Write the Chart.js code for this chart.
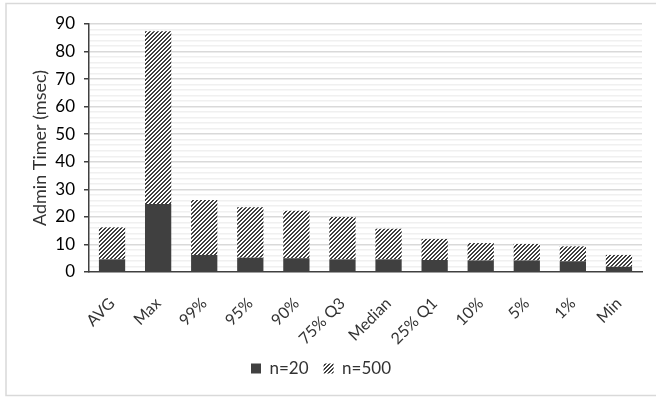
<!DOCTYPE html>
<html>
<head>
<meta charset="utf-8">
<script src="https://cdn.jsdelivr.net/npm/chart.js@4/dist/chart.umd.min.js"></script>
<style>
  html, body { margin: 0; padding: 0; background: #ffffff; }
  #wrap { position: relative; width: 656px; height: 398px; }
</style>
</head>
<body>
<div id="wrap"><canvas id="chart" width="656" height="398"></canvas></div>
<script>
// Admin timer percentiles (msec), stacked per sample size
const categories = ['AVG', 'Max', '99%', '95%', '90%', '75% Q3', 'Median', '25% Q1', '10%', '5%', '1%', 'Min'];
const n20 = [4.6, 24.7, 6.2, 5.2, 5.0, 4.6, 4.6, 4.35, 4.2, 4.2, 3.9, 1.9];
const n500 = [11.6, 62.7, 19.9, 18.3, 17.2, 15.4, 11.1, 7.65, 6.3, 6.0, 5.4, 4.3];
const yTicks = [0, 10, 20, 30, 40, 50, 60, 70, 80, 90];

const DARK = '#404040';

// Upward diagonal hatch fill
function makeHatch() {
  const c = document.createElement('canvas');
  c.width = 8; c.height = 8;
  const g = c.getContext('2d');
  g.fillStyle = '#ffffff';
  g.fillRect(0, 0, 8, 8);
  g.fillStyle = DARK;
  for (let x = 0; x < 8; x++) {
    for (let y = 0; y < 8; y++) {
      if ((x + y) % 4 < 2) g.fillRect(x, y, 1, 1);
    }
  }
  return c;
}
const hatch = document.getElementById('chart').getContext('2d').createPattern(makeHatch(), 'repeat');

// Light frame around the whole chart
const framePlugin = {
  id: 'frame',
  beforeDraw(chart) {
    const ctx = chart.ctx;
    ctx.save();
    ctx.strokeStyle = '#d9d9d9';
    ctx.lineWidth = 1.5;
    ctx.strokeRect(6, 3.5, 700, 392);
    ctx.restore();
  }
};

Chart.defaults.font.family = 'Lato, "Liberation Sans", sans-serif';
Chart.defaults.color = DARK;

new Chart(document.getElementById('chart'), {
  type: 'bar',
  data: {
    labels: categories,
    datasets: [
      { label: 'n=20', data: n20, backgroundColor: DARK, borderWidth: 0,
        categoryPercentage: 1.0, barPercentage: 0.57 },
      { label: 'n=500', data: n500, backgroundColor: hatch, borderWidth: 0,
        categoryPercentage: 1.0, barPercentage: 0.57 }
    ]
  },
  options: {
    responsive: false,
    animation: false,
    layout: { padding: { left: 0, right: 14, top: 24, bottom: 11 } },
    plugins: {
      legend: {
        position: 'bottom',
        labels: { boxWidth: 10, boxHeight: 10, padding: 15, font: { size: 17 }, color: '#333333' }
      },
      tooltip: { enabled: false }
    },
    scales: {
      x: {
        stacked: true,
        grid: { display: false },
        border: { color: DARK, width: 1.5 },
        ticks: { maxRotation: 45, minRotation: 45, autoSkip: false, padding: 14, font: { size: 16 }, color: '#333333' },
        afterFit(s) { s.height = 73; }
      },
      y: {
        stacked: true,
        min: 0, max: 90,
        afterBuildTicks(s) {
          const t = [];
          for (let v = 0; v <= 90; v += 2) t.push({ value: v });
          s.ticks = t;
        },
        grid: {
          color(ctx) {
            const v = ctx.tick ? ctx.tick.value : 0;
            if (v === 0) return 'rgba(0,0,0,0)';
            return v % 10 === 0 ? '#d9d9d9' : '#f0f0f0';
          },
          tickColor(ctx) {
            const v = ctx.tick ? ctx.tick.value : 0;
            return v % 10 === 0 ? DARK : 'rgba(0,0,0,0)';
          },
          tickLength: 5,
          lineWidth: 1.5
        },
        border: { color: DARK, width: 1.5 },
        ticks: {
          autoSkip: false,
          padding: 9,
          font: { size: 17 },
          color: '#000000',
          callback(v) { return yTicks.includes(v) ? String(v) : ''; }
        },
        title: { display: true, text: 'Admin Timer (msec)', font: { size: 18 }, color: '#333333', padding: { top: 29, bottom: 2 } },
        afterFit(s) { s.width = 89; }
      }
    }
  },
  plugins: [framePlugin]
});
</script>
</body>
</html>
